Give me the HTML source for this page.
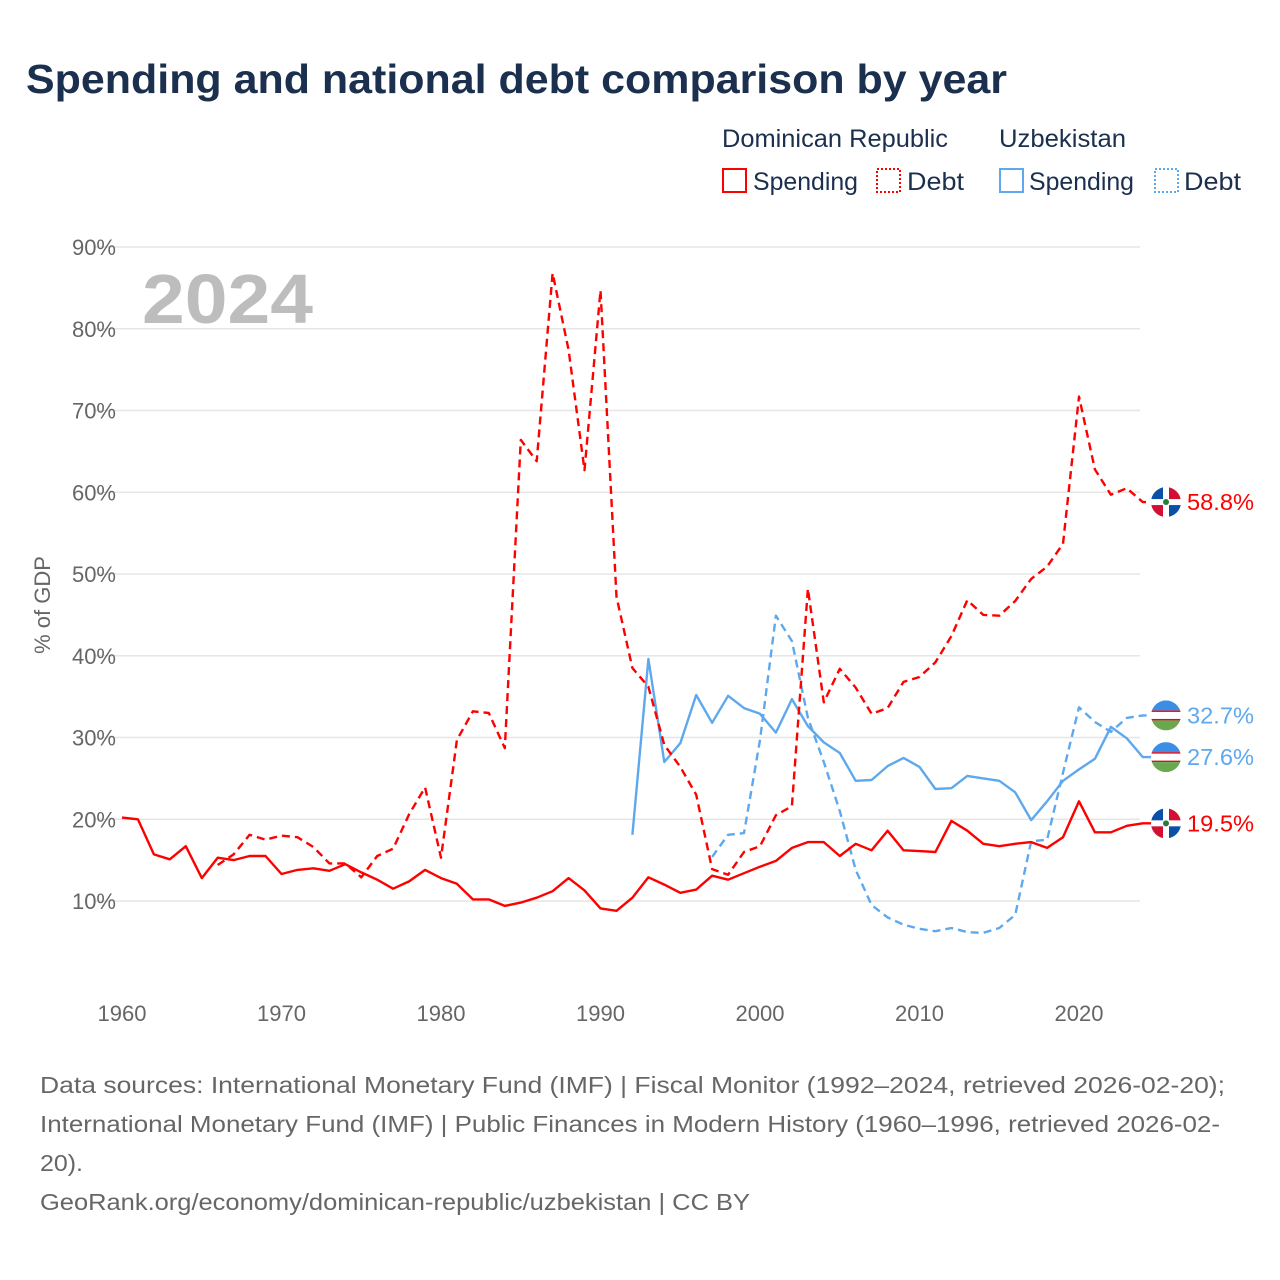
<!DOCTYPE html>
<html><head><meta charset="utf-8">
<style>
body{margin:0;background:#fff;font-family:"Liberation Sans",sans-serif;}
#wrap{position:relative;width:1280px;height:1280px;overflow:hidden;}
</style></head>
<body>
<div id="wrap">
<svg id="svg" width="1280" height="1280" xmlns="http://www.w3.org/2000/svg">
<text x="26" y="93" font-size="41" font-weight="bold" fill="#1b2f4e" textLength="981" lengthAdjust="spacingAndGlyphs">Spending and national debt comparison by year</text>
<g font-size="25" fill="#1b2f4e">
<text x="722" y="147" textLength="226" lengthAdjust="spacingAndGlyphs">Dominican Republic</text>
<text x="999" y="147" textLength="127" lengthAdjust="spacingAndGlyphs">Uzbekistan</text>
<rect x="723" y="169" width="23" height="23" fill="none" stroke="#f00" stroke-width="2"/>
<text x="753" y="190" textLength="105" lengthAdjust="spacingAndGlyphs">Spending</text>
<rect x="877" y="169" width="23" height="23" fill="none" stroke="#f00" stroke-width="2" stroke-dasharray="2,2"/>
<text x="907" y="190" textLength="57" lengthAdjust="spacingAndGlyphs">Debt</text>
<rect x="1000" y="169" width="23" height="23" fill="none" stroke="#5ea8ee" stroke-width="2"/>
<text x="1029" y="190" textLength="105" lengthAdjust="spacingAndGlyphs">Spending</text>
<rect x="1155" y="169" width="23" height="23" fill="none" stroke="#5ea8ee" stroke-width="2" stroke-dasharray="2,2"/>
<text x="1184" y="190" textLength="57" lengthAdjust="spacingAndGlyphs">Debt</text>
</g>
<g id="grid"></g>
<text x="142" y="323" font-size="70" font-weight="bold" fill="#bdbdbd" textLength="171" lengthAdjust="spacingAndGlyphs">2024</text>
<text transform="translate(50,605) rotate(-90)" text-anchor="middle" font-size="22" fill="#666">% of GDP</text>
<g id="series"></g>
<g id="ends"></g>
<g font-size="23" fill="#666">
<text x="40" y="1093" textLength="1185" lengthAdjust="spacingAndGlyphs">Data sources: International Monetary Fund (IMF) | Fiscal Monitor (1992–2024, retrieved 2026-02-20);</text>
<text x="40" y="1132" textLength="1180" lengthAdjust="spacingAndGlyphs">International Monetary Fund (IMF) | Public Finances in Modern History (1960–1996, retrieved 2026-02-</text>
<text x="40" y="1171" textLength="43" lengthAdjust="spacingAndGlyphs">20).</text>
<text x="40" y="1210" textLength="710" lengthAdjust="spacingAndGlyphs">GeoRank.org/economy/dominican-republic/uzbekistan | CC BY</text>
</g>
</svg>
</div>
<script>
const yTicks=[10,20,30,40,50,60,70,80,90];
const xTicks=[1960,1970,1980,1990,2000,2010,2020];
const drSpendStart=1960;
const drSpend=[20.2,20.0,15.7,15.1,16.7,12.8,15.3,15.0,15.5,15.5,13.3,13.8,14.0,13.7,14.5,13.5,12.6,11.5,12.4,13.8,12.8,12.1,10.2,10.2,9.4,9.8,10.4,11.2,12.8,11.3,9.1,8.8,10.4,12.9,12.0,11.0,11.4,13.1,12.6,13.4,14.2,14.9,16.5,17.2,17.2,15.5,17.0,16.2,18.6,16.2,16.1,16.0,19.8,18.6,17.0,16.7,17.0,17.2,16.5,17.8,22.2,18.4,18.4,19.2,19.5];
const drDebtStart=1966;
const drDebt=[14.4,15.7,18.1,17.5,18.0,17.8,16.6,14.6,14.6,12.9,15.5,16.4,20.6,23.9,15.3,29.7,33.2,33.0,28.7,66.4,63.8,86.8,77.4,62.7,84.7,47.2,38.5,36.2,29.1,26.4,23.0,13.9,13.2,16.0,16.7,20.5,21.6,48.2,34.3,38.4,36.1,32.9,33.6,36.8,37.4,39.2,42.4,46.8,45.0,44.9,46.7,49.4,50.9,53.7,71.7,62.8,59.7,60.5,58.8];
const uzSpendStart=1992;
const uzSpend=[18.1,39.6,27.0,29.3,35.2,31.8,35.1,33.6,32.9,30.6,34.7,31.4,29.4,28.1,24.7,24.8,26.5,27.5,26.4,23.7,23.8,25.3,25.0,24.7,23.3,19.9,22.2,24.7,26.1,27.4,31.3,29.9,27.6];
const uzDebtStart=1997;
const uzDebt=[15.4,18.1,18.3,29.7,44.9,41.8,32.4,27.0,21.0,13.8,9.5,8.0,7.1,6.6,6.3,6.7,6.2,6.1,6.7,8.3,17.3,17.5,25.7,33.7,31.9,30.7,32.4,32.7];

const NS="http://www.w3.org/2000/svg";
const X=yr=>122+(yr-1960)*15.95;
const Y=v=>901-(v-10)*8.175;
function el(t,a,p){const e=document.createElementNS(NS,t);for(const k in a)e.setAttribute(k,a[k]);p.appendChild(e);return e;}
const grid=document.getElementById('grid');
yTicks.forEach(v=>{
  const l=el('line',{x1:95,x2:1140,y1:Y(v),y2:Y(v),stroke:'#e6e6e6','stroke-width':1.5},grid);
  
  
  const t=el('text',{x:116,y:Y(v)+8,'text-anchor':'end','font-size':22,fill:'#666'},grid);
  t.textContent=v+'%';
  
  
});
xTicks.forEach(yr=>{
  const t=el('text',{x:X(yr),y:1021,'text-anchor':'middle','font-size':22,fill:'#666'},grid);
  t.textContent=yr;
  
  
});
const sg=document.getElementById('series');
function line(start,vals,color,dash,name){
  let d=vals.map((v,i)=>(i?'L':'M')+X(start+i).toFixed(1)+','+Y(v).toFixed(1)).join('');
  d+='L1152,'+Y(vals[vals.length-1]).toFixed(1);
  const p=el('path',{d:d,fill:'none',stroke:color,'stroke-width':2.4,'stroke-linejoin':'round'},sg);
  if(dash)p.setAttribute('stroke-dasharray','8,5');
  
  
}
line(uzDebtStart,uzDebt,'#5ea8ee',true,'uz-debt-line');
line(uzSpendStart,uzSpend,'#5ea8ee',false,'uz-spending-line');
line(drDebtStart,drDebt,'#f00',true,'dr-debt-line');
line(drSpendStart,drSpend,'#f00',false,'dr-spending-line');
const eg=document.getElementById('ends');
function flag(cy,kind,name){
  const g=el('g',{},eg);
  
  
  const cx=1166;
  const id='c'+Math.round(cy);
  const cp=el('clipPath',{id:id},g);el('circle',{cx:cx,cy:cy,r:15},cp);
  const f=el('g',{'clip-path':'url(#'+id+')'},g);
  if(kind==='dr'){
    el('rect',{x:cx-15,y:cy-15,width:30,height:30,fill:'#fff'},f);
    el('rect',{x:cx-15,y:cy-15,width:12,height:12,fill:'#0b50a8'},f);
    el('rect',{x:cx+3,y:cy-15,width:12,height:12,fill:'#d21034'},f);
    el('rect',{x:cx-15,y:cy+3,width:12,height:12,fill:'#d21034'},f);
    el('rect',{x:cx+3,y:cy+3,width:12,height:12,fill:'#0b50a8'},f);
    el('circle',{cx:cx,cy:cy,r:3,fill:'#2a7a3a'},f);
  }else{
    el('rect',{x:cx-15,y:cy-15,width:30,height:10,fill:'#3a8ee6'},f);
    el('rect',{x:cx-15,y:cy-5,width:30,height:10,fill:'#fff'},f);
    el('rect',{x:cx-15,y:cy-5,width:30,height:1.5,fill:'#ce1126'},f);
    el('rect',{x:cx-15,y:cy+3.5,width:30,height:1.5,fill:'#ce1126'},f);
    el('rect',{x:cx-15,y:cy+5,width:30,height:10,fill:'#6aa84f'},f);
  }
}
function endLabel(v,color,kind,name){
  const cy=Y(v);
  flag(cy,kind,name+'-flag');
  const t=el('text',{x:1187,y:cy+8,'font-size':23,fill:color,textLength:67,lengthAdjust:'spacingAndGlyphs'},eg);
  t.textContent=v.toFixed(1)+'%';
  
  
}
endLabel(drDebt[drDebt.length-1],'#f00','dr','dr-debt-end');
endLabel(uzDebt[uzDebt.length-1],'#5ea8ee','uz','uz-debt-end');
endLabel(uzSpend[uzSpend.length-1],'#5ea8ee','uz','uz-spending-end');
endLabel(drSpend[drSpend.length-1],'#f00','dr','dr-spending-end');
</script>
</body></html>
